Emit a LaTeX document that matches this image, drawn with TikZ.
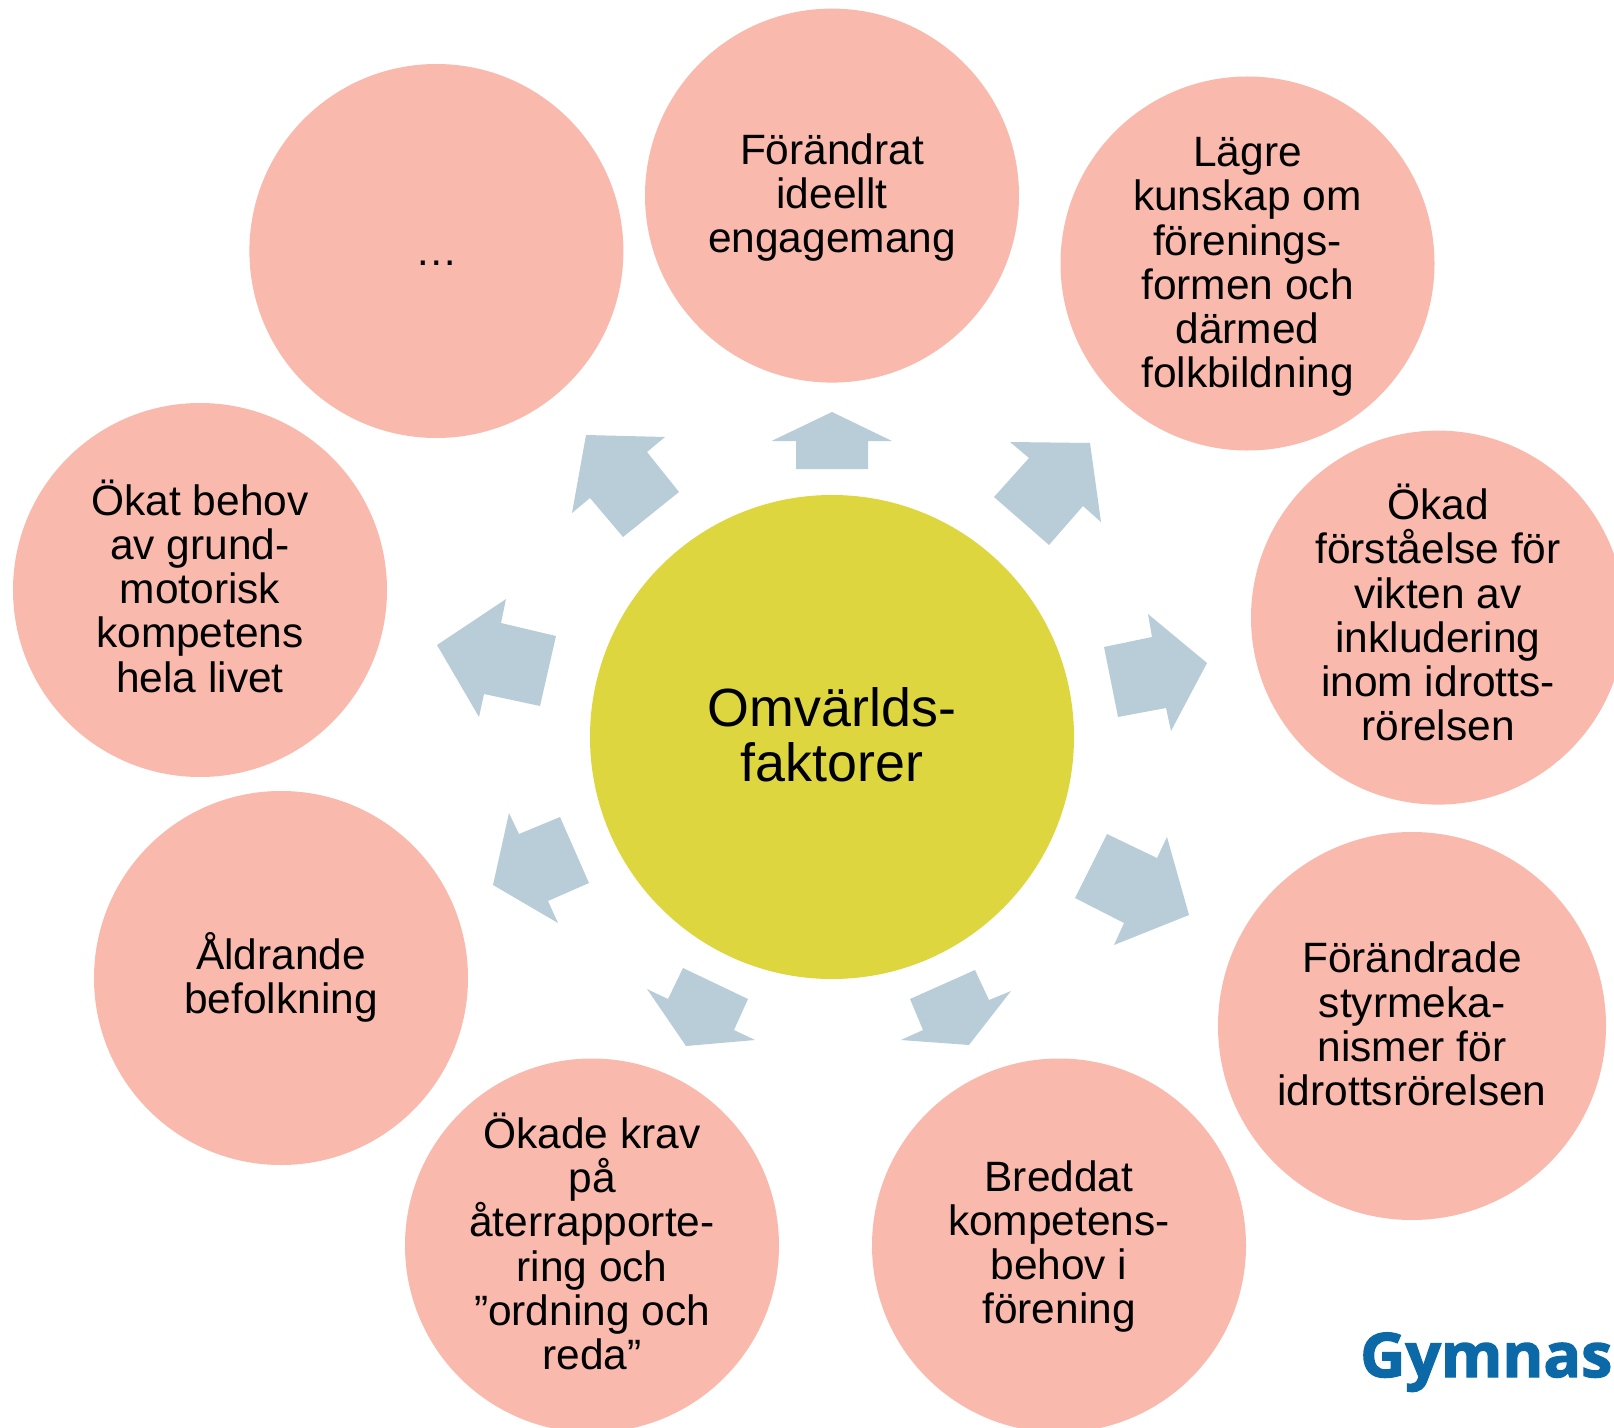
\documentclass[tikz,border=0pt]{standalone}
\usepackage{fontspec}
\setmainfont{Liberation Sans}
\newfontfamily\logofont[FakeBold=2.2,FakeStretch=1.02]{Open Sans}
\definecolor{pinkc}{HTML}{F9B9AC}
\definecolor{yellowc}{HTML}{DDD63E}
\definecolor{arrowc}{HTML}{B9CDD9}
\definecolor{logoc}{HTML}{0B69A8}
\tikzset{
  outer/.style={circle,fill=pinkc,inner sep=0pt,minimum size=374bp},
  outerbig/.style={outer,minimum size=388bp},
  hub/.style={circle,fill=yellowc,inner sep=0pt,minimum size=484bp},
  outertext/.style={inner sep=0pt,align=center,font=\fontsize{42.6}{44.4}\selectfont},
  hubtext/.style={inner sep=0pt,align=center,font=\fontsize{54}{55.2}\selectfont},
  blockarrow/.style={fill=arrowc,draw=none},
  logo/.style={anchor=base west,inner sep=0pt,text=logoc,font=\logofont\bfseries\fontsize{61.5}{62}\selectfont}
}
\begin{document}
\begin{tikzpicture}[x=1bp,y=-1bp]
\useasboundingbox (0,0) rectangle (1614,1428);
\clip (0,0) rectangle (1614,1428);
\node[hub] (c) at (832,737) {};
\node[hubtext] (ct) at ([yshift=2bp]c.center) {Omvärlds-\\faktorer};
\node[outer] (n1) at (832,195.6) {};
\node[outer] (n2) at (1247.5,263.5) {};
\node[outer] (n3) at (1438,617.6) {};
\node[outerbig] (n4) at (1412,1026) {};
\node[outer] (n5) at (1059,1245.5) {};
\node[outer] (n6) at (592,1245.5) {};
\node[outer] (n7) at (281,978) {};
\node[outer] (n8) at (200,590) {};
\node[outer] (n9) at (436.4,251) {};
\node[outertext] (t1) at ([yshift=-2bp]n1.center) {Förändrat\\ideellt\\engagemang};
\node[outertext] (t2) at ([yshift=-3.5bp]n2.center) {Lägre\\kunskap om\\förenings-\\formen och\\därmed\\folkbildning};
\node[outertext] (t3) at ([yshift=5bp]n3.center) {Ökad\\förståelse för\\vikten av\\inkludering\\inom idrotts-\\rörelsen};
\node[outertext] (t4) at ([yshift=2bp]n4.center) {Förändrade\\styrmeka-\\nismer för\\idrottsrörelsen};
\node[outertext] (t5) at ([yshift=-1bp]n5.center) {Breddat\\kompetens-\\behov i\\förening};
\node[outertext] (t6) at ([yshift=4bp]n6.center) {Ökade krav\\på\\återrapporte-\\ring och\\”ordning och\\reda”};
\node[outertext] (t7) at ([yshift=1bp]n7.center) {Åldrande\\befolkning};
\node[outertext] (t8) at ([yshift=4bp]n8.center) {Ökat behov\\av grund-\\motorisk\\kompetens\\hela livet};
\node[outertext] (t9) at ([yshift=-12bp]n9.center) {…};
% block arrows
\fill[blockarrow] (832,412) -- (892,441) -- (868,441) -- (868,469) -- (796,469) -- (796,441) -- (771.5,441) -- cycle;
\fill[blockarrow] (1010,442) -- (1090,443) -- (1101,522) -- (1083,506) -- (1049,545) -- (994,497) -- (1029,458) -- cycle;
\fill[blockarrow] (1148,614) -- (1207,663) -- (1171,731) -- (1166,708) -- (1118,717) -- (1104,647) -- (1152,637) -- cycle;
\fill[blockarrow] (1107,834) -- (1157,858) -- (1167,837) -- (1189,915) -- (1114,945) -- (1124,923) -- (1075,898) -- cycle;
\fill[blockarrow] (975,970) -- (989,1000) -- (1011,991) -- (969,1045) -- (901,1040) -- (923,1030) -- (910,999) -- cycle;
\fill[blockarrow] (683,968) -- (748,999) -- (734,1030) -- (755,1040) -- (686,1046) -- (647,989) -- (668,999) -- cycle;
\fill[blockarrow] (509,813) -- (519,834) -- (560,817) -- (589,883) -- (548,901) -- (558,923) -- (493,885) -- cycle;
\fill[blockarrow] (506,599) -- (501,623) -- (556,636) -- (540,706) -- (484,694) -- (479,717) -- (437,645) -- cycle;
\fill[blockarrow] (586,435) -- (665,437) -- (647,452) -- (679,492) -- (623,537) -- (590,498) -- (572,513) -- cycle;
\node[logo] (g) at (1360,1377) {Gymnas};
\end{tikzpicture}
\end{document}
